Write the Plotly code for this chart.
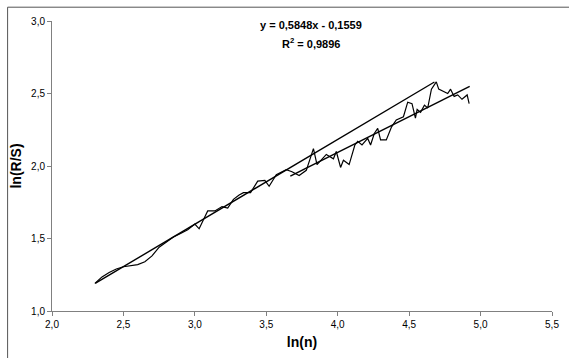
import plotly.graph_objects as go

# Empirical R/S curve (ln(n), ln(R/S))
ln_n = [2.30, 2.35, 2.40, 2.45, 2.50, 2.55, 2.60, 2.65, 2.70, 2.75, 2.80, 2.85, 2.90, 2.95,
        3.00, 3.03, 3.06, 3.09, 3.14, 3.19, 3.23, 3.27, 3.31, 3.34, 3.39, 3.44, 3.49, 3.52,
        3.57, 3.64, 3.68, 3.73, 3.78, 3.83, 3.855, 3.92, 3.97, 3.99, 4.02, 4.04, 4.08,
        4.12, 4.14, 4.17, 4.21, 4.23, 4.256, 4.28, 4.30, 4.34, 4.377, 4.41, 4.46, 4.49,
        4.52, 4.544, 4.556, 4.58, 4.607, 4.63, 4.656, 4.69, 4.707, 4.745, 4.77, 4.79,
        4.815, 4.84, 4.87, 4.906, 4.92]
ln_rs = [1.19, 1.235, 1.265, 1.29, 1.305, 1.315, 1.32, 1.34, 1.38, 1.44, 1.475, 1.51, 1.535, 1.56,
         1.60, 1.567, 1.63, 1.69, 1.69, 1.72, 1.71, 1.77, 1.80, 1.816, 1.816, 1.896, 1.90, 1.86,
         1.94, 1.975, 1.96, 1.934, 1.97, 2.12, 2.01, 2.08, 2.05, 2.10, 1.99, 2.04, 2.01,
         2.145, 2.17, 2.145, 2.19, 2.145, 2.224, 2.26, 2.18, 2.18, 2.27, 2.317, 2.34, 2.44,
         2.43, 2.33, 2.39, 2.37, 2.42, 2.40, 2.53, 2.58, 2.53, 2.51, 2.50, 2.53,
         2.48, 2.49, 2.46, 2.49, 2.43]

# Linear trend y = 0.5848x - 0.1559
slope, intercept = 0.5848, -0.1559
trend_x = [2.305, 4.677]
trend_y = [slope * v + intercept for v in trend_x]

# Second straight segment
seg_x = [3.668, 4.924]
seg_y = [1.93, 2.549]

x_ticks = [2.0, 2.5, 3.0, 3.5, 4.0, 4.5, 5.0, 5.5]
y_ticks = [1.0, 1.5, 2.0, 2.5, 3.0]

fig = go.Figure()
fig.add_trace(go.Scatter(x=ln_n, y=ln_rs, mode="lines",
                         line=dict(color="black", width=1.2), showlegend=False))
fig.add_trace(go.Scatter(x=trend_x, y=trend_y, mode="lines",
                         line=dict(color="black", width=1.4), showlegend=False))
fig.add_trace(go.Scatter(x=seg_x, y=seg_y, mode="lines",
                         line=dict(color="black", width=1.4), showlegend=False))

font_family = "Liberation Sans, Arial, sans-serif"
fig.update_layout(
    width=569, height=358,
    margin=dict(l=52, r=10, t=21, b=43),
    paper_bgcolor="white", plot_bgcolor="white",
    separators=", ",
    font=dict(family=font_family, color="black", size=10),
    xaxis=dict(range=[2.0, 5.5], tickvals=x_ticks, tickformat=".1f",
               showgrid=False, zeroline=False, showline=True, linecolor="#808080",
               linewidth=1, ticks="outside", ticklen=4, tickcolor="#808080",
               tickfont=dict(size=10),
               title=dict(text="<b>ln(n)</b>", font=dict(size=14), standoff=8)),
    yaxis=dict(range=[1.0, 3.0], tickvals=y_ticks, tickformat=".1f",
               showgrid=False, zeroline=False, showline=True, linecolor="#808080",
               linewidth=1, ticks="outside", ticklen=4, tickcolor="#808080",
               tickfont=dict(size=10),
               title=dict(text="<b>ln(R/S)</b>", font=dict(size=14), standoff=6)),
    annotations=[
        dict(x=0.517, y=0.987, xref="paper", yref="paper", showarrow=False,
             text="<b>y = 0,5848x - 0,1559</b>", font=dict(size=11), xanchor="center", yanchor="middle"),
        dict(x=0.517, y=0.925, xref="paper", yref="paper", showarrow=False,
             text="<b>R<sup>2</sup> = 0,9896</b>", font=dict(size=11), xanchor="center", yanchor="middle"),
    ],
    shapes=[dict(type="rect", xref="paper", yref="paper",
                 x0=-0.0888, y0=-0.3, x1=1.2, y1=1.0476,
                 line=dict(color="#555555", width=1), fillcolor="rgba(0,0,0,0)")],
)

fig.write_html("out.html")
